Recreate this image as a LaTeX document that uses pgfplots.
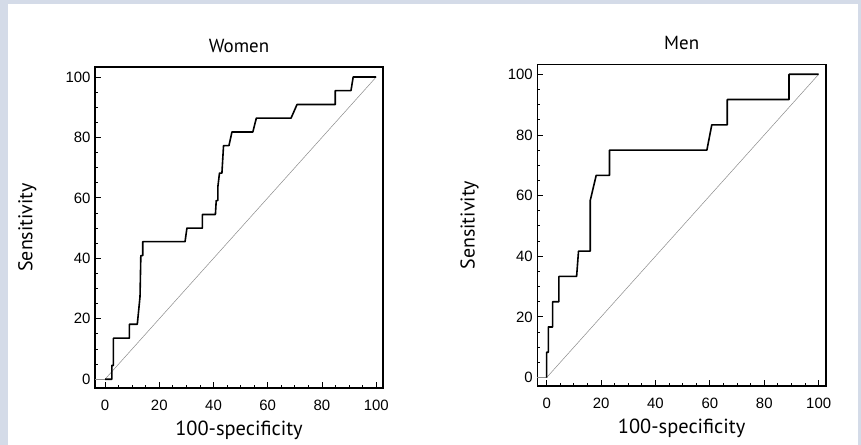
\documentclass[border=0pt]{standalone}
\usepackage{pgfplots}
\pgfplotsset{compat=1.18}
\usepackage{fontspec}
\setmainfont{Liberation Sans}
\newfontfamily\labelfont{PT Sans}
\definecolor{bgc}{HTML}{D4DBE8}
\definecolor{diag}{HTML}{8C8C8C}
\pgfplotsset{
  rocstyle/.style={
    scale only axis,
    anchor=south west,
    axis line style={line width=1.3bp},
    tick pos=left,
    tick align=inside,
    major tick length=6bp,
    minor tick length=3bp,
    every tick/.style={black, line width=0.8bp},
    xtick={0,20,...,100},
    ytick={0,20,...,100},
    minor tick num=3,
    tick label style={font=\fontsize{15}{17}\selectfont},
    /pgf/number format/assume math mode=true,
    xticklabel style={anchor=base, yshift=-22.5bp},
    yticklabel style={anchor=east, xshift=-1bp},
    title style={font=\labelfont\fontsize{19}{21}\selectfont, at={(axis description cs:0.5,1)}, anchor=base, yshift=9bp},
    xlabel style={font=\labelfont\fontsize{20.5}{22}\selectfont, at={(axis description cs:0.5,0)}, anchor=base, yshift=-48bp},
    ylabel style={font=\labelfont\fontsize{20}{22}\selectfont, at={(axis description cs:-0.235,0.5)}, anchor=center},
    xlabel={100-specificity},
    ylabel={Sensitivity},
    clip=false,
  }
}
\begin{document}
\begin{tikzpicture}[x=1bp,y=1bp]
\useasboundingbox (0,0) rectangle (861,445);
\fill[bgc] (0,0) rectangle (861,445);
\fill[white] (8,0) rectangle (858,441);
% Women
\begin{axis}[rocstyle,
  at={(95bp,57bp)}, width=288bp, height=321bp,
  xmin=-3.7, xmax=102.5, ymin=-2.9, ymax=103.3,
  title={Women}]
\addplot[diag, line width=0.5bp] coordinates {(0,0) (100,100)};
\addplot[diag, line width=0.8bp] coordinates {(-3.7,0) (0,0)};
\addplot[black, line width=1.6bp, line join=round] coordinates {
(0,0) (2.5,0) (2.5,4.55) (3.1,4.55) (3.1,13.6) (9.0,13.6) (9.0,18.2) (11.9,18.2)
(12.9,27.3) (13.2,40.9) (13.9,40.9) (13.9,45.5) (29.5,45.5) (30.2,50) (35.9,50)
(35.9,54.5) (40.7,54.5) (41.0,59.1) (41.6,59.1) (41.6,63.6) (42.2,68.2) (43.1,68.2)
(43.7,77.3) (45.7,77.3) (46.8,81.8) (54.5,81.8) (55.8,86.4) (68.6,86.4) (70.8,90.9)
(84.9,90.9) (84.9,95.5) (90.7,95.5) (91.5,100) (100,100)};
\end{axis}
% Men
\begin{axis}[rocstyle,
  at={(537.3bp,59bp)}, width=288.7bp, height=321.7bp,
  xmin=-3.45, xmax=102.7, ymin=-2.8, ymax=103.3,
  title={Men}]
\addplot[diag, line width=0.5bp] coordinates {(0,0) (100,100)};
\addplot[diag, line width=0.8bp] coordinates {(-3.45,0) (0,0)};
\addplot[black, line width=1.6bp, line join=round] coordinates {
(0,0) (0,8.33) (0.6,8.33) (0.6,16.67) (2.2,16.67) (2.2,25) (4.5,25) (4.5,33.33)
(11.0,33.33) (11.7,41.67) (16.0,41.67) (16.0,58.33) (18.2,66.67) (23.1,66.67)
(23.1,75) (58.9,75) (60.7,83.33) (66.4,83.33) (66.4,91.67) (89.1,91.67) (89.1,100) (100,100)};
\end{axis}
\end{tikzpicture}
\end{document}
